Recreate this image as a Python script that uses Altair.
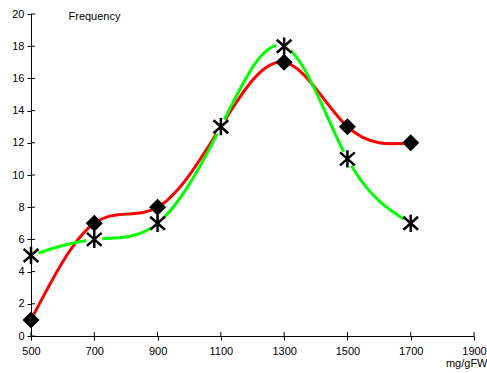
import altair as alt
import pandas as pd

doses = [500, 700, 900, 1100, 1300, 1500, 1700]
red_vals = [1, 7, 8, 13, 17, 13, 12]
green_vals = [5, 6, 7, 13, 18, 11, 7]
x_ticks = [500, 700, 900, 1100, 1300, 1500, 1700, 1900]
y_ticks = [0, 2, 4, 6, 8, 10, 12, 14, 16, 18, 20]

red = pd.DataFrame({"dose": doses, "freq": red_vals})
green = pd.DataFrame({"dose": doses, "freq": green_vals})
xt = pd.DataFrame({"v": x_ticks})
yt = pd.DataFrame({"v": y_ticks})

FONT = "Liberation Sans"
xs = alt.Scale(domain=[500, 1900], nice=False, zero=False)
ys = alt.Scale(domain=[0, 20], nice=False)

xax = alt.Axis(values=x_ticks, format="d", title="mg/gFW", grid=False, tickSize=4, labelPadding=5,
               titleX=456, titleY=30, titleAlign="right", titleBaseline="alphabetic",
               titleFont=FONT, titleFontSize=11, titleFontWeight="normal",
               labelFont=FONT, labelFontSize=11, labelColor="black", titleColor="black",
               domainColor="black", tickColor="black", labelFlush=False, labelOverlap=False)
yax = alt.Axis(values=y_ticks, format="d", title="Frequency", grid=False, tickSize=4, labelPadding=3,
               titleAngle=0, titleX=37, titleY=5, titleAlign="left", titleBaseline="alphabetic",
               titleFont=FONT, titleFontSize=11, titleFontWeight="normal",
               labelFont=FONT, labelFontSize=11, labelColor="black", titleColor="black",
               domainColor="black", tickColor="black", labelOverlap=False)

X = alt.X("dose:Q", scale=xs, axis=xax)
Y = alt.Y("freq:Q", scale=ys, axis=yax)

green_line = alt.Chart(green).mark_line(color="#00ff00", strokeWidth=3, interpolate="natural").encode(x=X, y=Y)
red_line = alt.Chart(red).mark_line(color="#ff0000", strokeWidth=3, interpolate="natural").encode(x=X, y=Y)
halo = alt.Chart(green).mark_point(shape="circle", filled=True, color="white", opacity=1, size=260).encode(x=X, y=Y)
star = alt.Chart(green).mark_point(
    shape="M0,-1L0,1M-0.85,-0.75L0.85,0.75M-0.85,0.75L0.85,-0.75",
    filled=False, color="black", strokeWidth=2.5, opacity=1, size=300).encode(x=X, y=Y)
diamond = alt.Chart(red).mark_point(shape="diamond", filled=True, color="black", opacity=1, size=290).encode(x=X, y=Y)

xin = alt.Chart(xt).mark_rule(color="black", strokeWidth=1).encode(
    x=alt.X("v:Q", scale=xs, axis=xax), y=alt.value(322), y2=alt.value(318))
yin = alt.Chart(yt).mark_rule(color="black", strokeWidth=1).encode(
    y=alt.Y("v:Q", scale=ys, axis=yax), x=alt.value(0), x2=alt.value(4))

chart = alt.layer(red_line, diamond, green_line, halo, star, xin, yin).properties(
    width=443, height=322,
    autosize=alt.AutoSizeParams(type="none"),
    padding={"left": 31, "top": 14, "right": 13, "bottom": 37},
    background="white",
).configure_view(stroke=None)

chart.save("out.html", embed_options={"renderer": "svg", "actions": False})
